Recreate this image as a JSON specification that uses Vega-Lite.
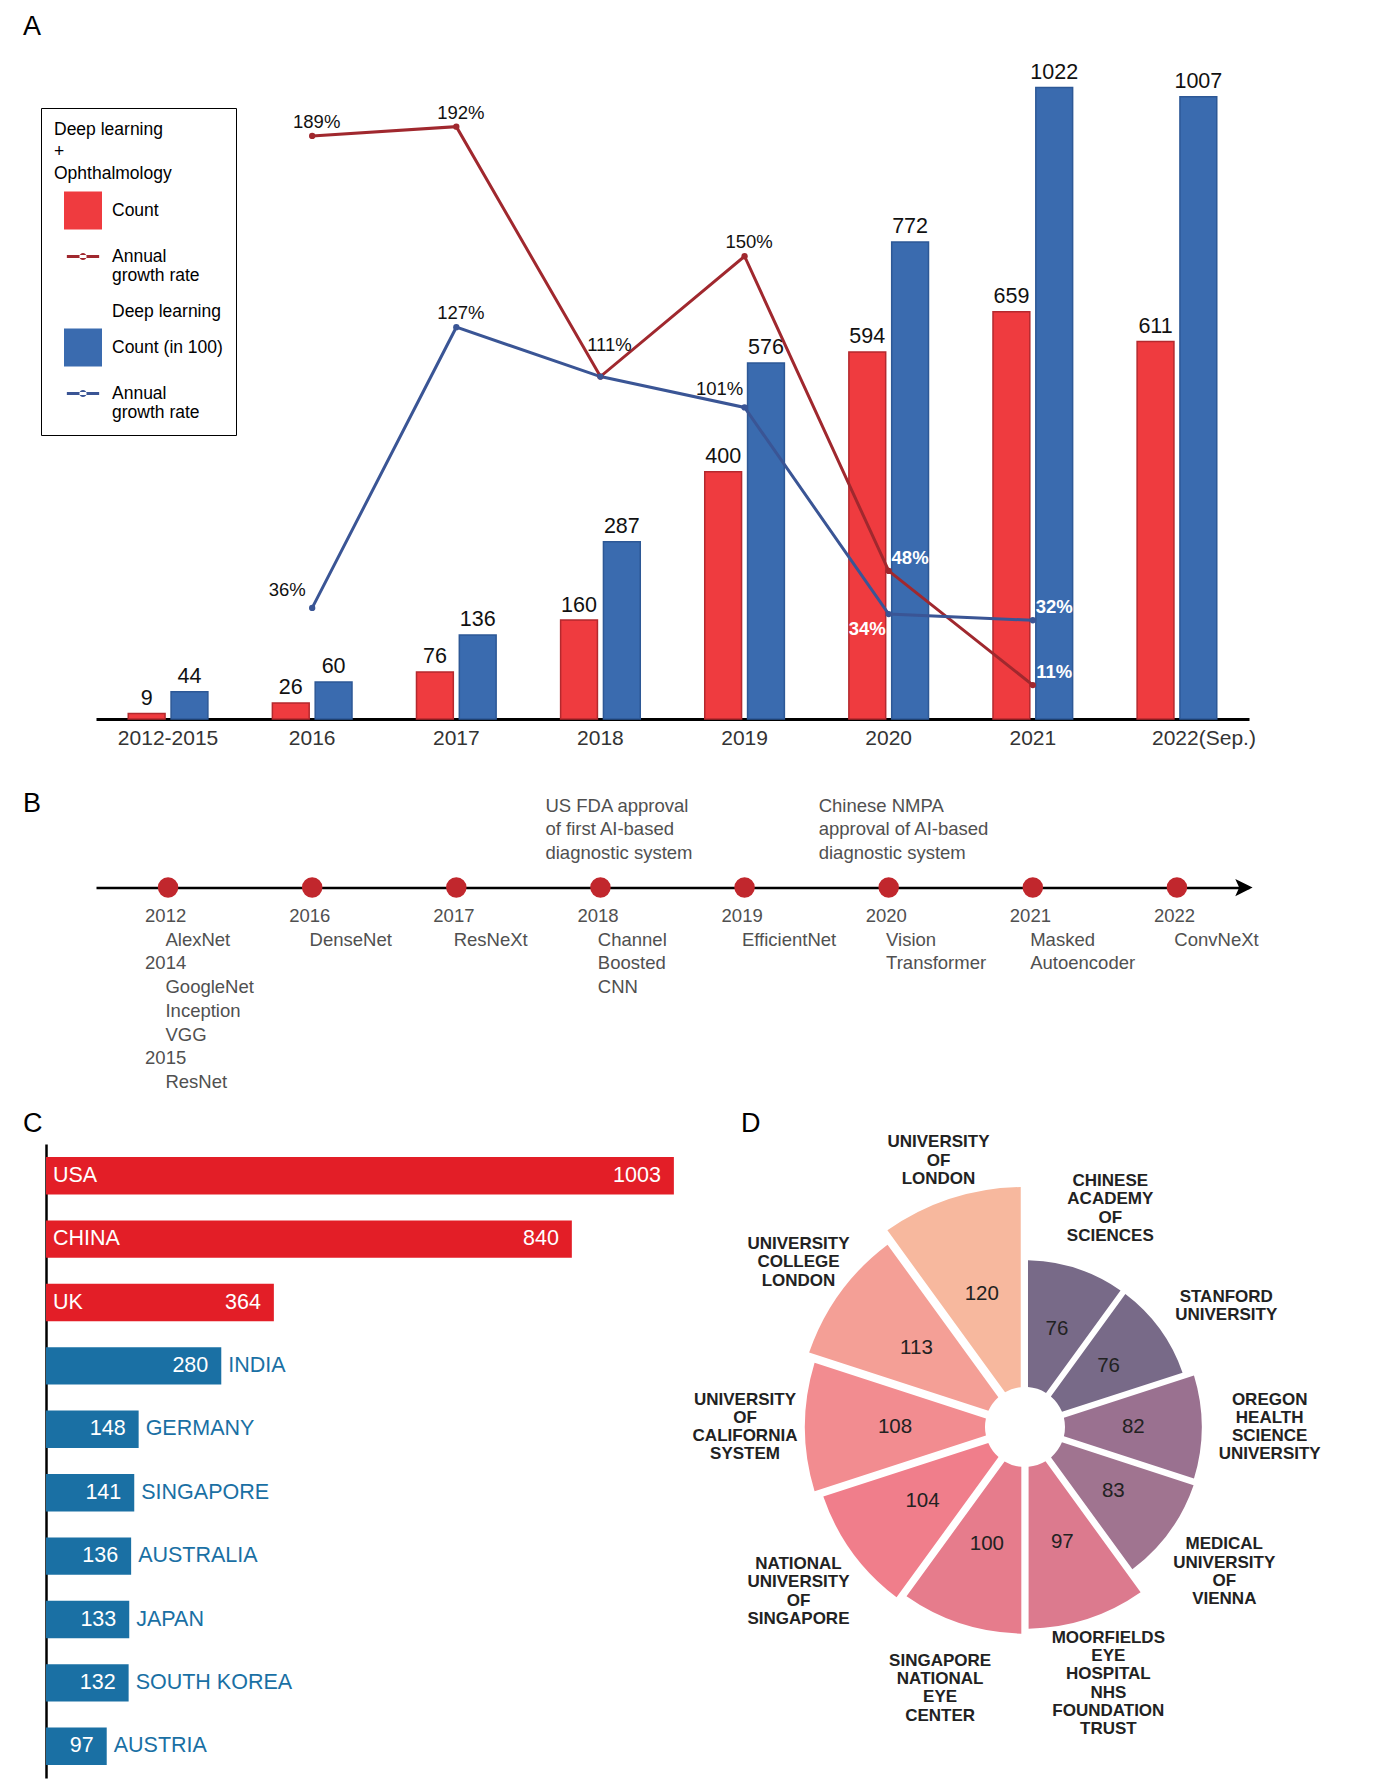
{
"$schema": "https://vega.github.io/schema/vega-lite/v6.json",
"padding": 0,
"spacing": 0,
"bounds": "flush",
"background": "white",
"resolve": {"scale": {"color": "independent", "shape": "independent"}, "legend": {"color": "independent", "shape": "independent"}},
"config": {
  "view": {"stroke": null, "fill": "transparent"},
  "font": "Liberation Sans",
  "title": {"font": "Liberation Sans", "fontSize": 27, "fontWeight": "normal", "color": "#000", "anchor": "start", "frame": "group"}
},
"datasets": {
  "countsA": [
    {"period": "2012-2015", "series": "Count", "value": 9},
    {"period": "2012-2015", "series": "Count (in 100)", "value": 44},
    {"period": "2016", "series": "Count", "value": 26},
    {"period": "2016", "series": "Count (in 100)", "value": 60},
    {"period": "2017", "series": "Count", "value": 76},
    {"period": "2017", "series": "Count (in 100)", "value": 136},
    {"period": "2018", "series": "Count", "value": 160},
    {"period": "2018", "series": "Count (in 100)", "value": 287},
    {"period": "2019", "series": "Count", "value": 400},
    {"period": "2019", "series": "Count (in 100)", "value": 576},
    {"period": "2020", "series": "Count", "value": 594},
    {"period": "2020", "series": "Count (in 100)", "value": 772},
    {"period": "2021", "series": "Count", "value": 659},
    {"period": "2021", "series": "Count (in 100)", "value": 1022},
    {"period": "2022(Sep.)", "series": "Count", "value": 611},
    {"period": "2022(Sep.)", "series": "Count (in 100)", "value": 1007}
  ],
  "growthA": [
    {"period": "2016", "series": "Annual growth rate", "rate": 1.89},
    {"period": "2017", "series": "Annual growth rate", "rate": 1.92},
    {"period": "2018", "series": "Annual growth rate", "rate": 1.11},
    {"period": "2019", "series": "Annual growth rate", "rate": 1.50},
    {"period": "2020", "series": "Annual growth rate", "rate": 0.48},
    {"period": "2021", "series": "Annual growth rate", "rate": 0.11},
    {"period": "2016", "series": "Annual growth rate (DL)", "rate": 0.36},
    {"period": "2017", "series": "Annual growth rate (DL)", "rate": 1.27},
    {"period": "2018", "series": "Annual growth rate (DL)", "rate": 1.11},
    {"period": "2019", "series": "Annual growth rate (DL)", "rate": 1.01},
    {"period": "2020", "series": "Annual growth rate (DL)", "rate": 0.34},
    {"period": "2021", "series": "Annual growth rate (DL)", "rate": 0.32}
  ],
  "tlText": [
    {"slot": "2012", "line": 1, "text": "2012", "kind": "year"},
    {"slot": "2012", "line": 2, "text": "AlexNet", "kind": "model"},
    {"slot": "2012", "line": 3, "text": "2014", "kind": "year"},
    {"slot": "2012", "line": 4, "text": "GoogleNet", "kind": "model"},
    {"slot": "2012", "line": 5, "text": "Inception", "kind": "model"},
    {"slot": "2012", "line": 6, "text": "VGG", "kind": "model"},
    {"slot": "2012", "line": 7, "text": "2015", "kind": "year"},
    {"slot": "2012", "line": 8, "text": "ResNet", "kind": "model"},
    {"slot": "2016", "line": 1, "text": "2016", "kind": "year"},
    {"slot": "2016", "line": 2, "text": "DenseNet", "kind": "model"},
    {"slot": "2017", "line": 1, "text": "2017", "kind": "year"},
    {"slot": "2017", "line": 2, "text": "ResNeXt", "kind": "model"},
    {"slot": "2018", "line": 1, "text": "2018", "kind": "year"},
    {"slot": "2018", "line": 2, "text": "Channel", "kind": "model"},
    {"slot": "2018", "line": 3, "text": "Boosted", "kind": "model"},
    {"slot": "2018", "line": 4, "text": "CNN", "kind": "model"},
    {"slot": "2019", "line": 1, "text": "2019", "kind": "year"},
    {"slot": "2019", "line": 2, "text": "EfficientNet", "kind": "model"},
    {"slot": "2020", "line": 1, "text": "2020", "kind": "year"},
    {"slot": "2020", "line": 2, "text": "Vision", "kind": "model"},
    {"slot": "2020", "line": 3, "text": "Transformer", "kind": "model"},
    {"slot": "2021", "line": 1, "text": "2021", "kind": "year"},
    {"slot": "2021", "line": 2, "text": "Masked", "kind": "model"},
    {"slot": "2021", "line": 3, "text": "Autoencoder", "kind": "model"},
    {"slot": "2022", "line": 1, "text": "2022", "kind": "year"},
    {"slot": "2022", "line": 2, "text": "ConvNeXt", "kind": "model"}
  ],
  "tlNotes": [
    {"slot": "2018", "note": "US FDA approval\nof first AI-based\ndiagnostic system"},
    {"slot": "2020", "note": "Chinese NMPA\napproval of AI-based\ndiagnostic system"}
  ],
  "countries": [
    {"country": "USA", "papers": 1003},
    {"country": "CHINA", "papers": 840},
    {"country": "UK", "papers": 364},
    {"country": "INDIA", "papers": 280},
    {"country": "GERMANY", "papers": 148},
    {"country": "SINGAPORE", "papers": 141},
    {"country": "AUSTRALIA", "papers": 136},
    {"country": "JAPAN", "papers": 133},
    {"country": "SOUTH KOREA", "papers": 132},
    {"country": "AUSTRIA", "papers": 97}
  ],
  "inst": [
    {"inst": "Chinese Academy of Sciences", "papers": 76, "rank": 1, "label": "CHINESE\nACADEMY\nOF\nSCIENCES"},
    {"inst": "Stanford University", "papers": 76, "rank": 2, "label": "STANFORD\nUNIVERSITY"},
    {"inst": "Oregon Health Science University", "papers": 82, "rank": 3, "label": "OREGON\nHEALTH\nSCIENCE\nUNIVERSITY"},
    {"inst": "Medical University of Vienna", "papers": 83, "rank": 4, "label": "MEDICAL\nUNIVERSITY\nOF\nVIENNA"},
    {"inst": "Moorfields Eye Hospital NHS Foundation Trust", "papers": 97, "rank": 5, "label": "MOORFIELDS\nEYE\nHOSPITAL\nNHS\nFOUNDATION\nTRUST"},
    {"inst": "Singapore National Eye Center", "papers": 100, "rank": 6, "label": "SINGAPORE\nNATIONAL\nEYE\nCENTER"},
    {"inst": "National University of Singapore", "papers": 104, "rank": 7, "label": "NATIONAL\nUNIVERSITY\nOF\nSINGAPORE"},
    {"inst": "University of California System", "papers": 108, "rank": 8, "label": "UNIVERSITY\nOF\nCALIFORNIA\nSYSTEM"},
    {"inst": "University College London", "papers": 113, "rank": 9, "label": "UNIVERSITY\nCOLLEGE\nLONDON"},
    {"inst": "University of London", "papers": 120, "rank": 10, "label": "UNIVERSITY\nOF\nLONDON"}
  ]
},
"vconcat": [
  {
    "width": 1378,
    "height": 719,
    "title": {"text": "A", "dx": 23, "offset": -62, "baseline": "alphabetic"},
    "layer": [
      {
        "data": {"name": "countsA"},
        "mark": {"type": "bar", "strokeWidth": 1.5},
        "encoding": {
          "x": {"field": "period", "type": "nominal",
                "scale": {"type": "band", "range": [96, 1249], "paddingInner": 0, "paddingOuter": 0},
                "axis": {"title": null, "orient": "bottom", "domainColor": "#000", "domainWidth": 3, "ticks": false, "labelAngle": 0,
                         "labelFontSize": 21, "labelColor": "#333", "labelPadding": 8, "labelFont": "Liberation Sans",
                         "labelOffset": {"condition": {"test": "datum.value == '2022(Sep.)'", "value": 27}, "value": 0}}},
          "xOffset": {"field": "series", "type": "nominal", "scale": {"domain": ["Count", "Count (in 100)"], "paddingInner": 0.14, "paddingOuter": 0.753}},
          "y": {"field": "value", "type": "quantitative", "scale": {"domain": [0, 1163.4], "nice": false}, "axis": null},
          "color": {"field": "series", "type": "nominal",
            "scale": {"domain": ["Count", "Annual growth rate", "Deep learning", "Count (in 100)", "Annual growth rate (DL)"],
                      "range": ["#ef3b3f", "#a0282e", "#ffffff", "#3a6baf", "#3a5595"]},
            "legend": {
              "orient": "none", "legendX": 41, "legendY": 108, "direction": "vertical",
              "title": ["Deep learning", "+", "Ophthalmology"],
              "titleFont": "Liberation Sans", "titleFontSize": 17.5, "titleFontWeight": "normal", "titleColor": "#000",
              "titleLineHeight": 22, "titlePadding": 9, "titleLimit": 400,
              "labelFont": "Liberation Sans", "labelFontSize": 17.5, "labelColor": "#000", "labelLimit": 400,
              "labelExpr": "indexof(datum.label, 'Annual') == 0 ? ['Annual', 'growth rate'] : datum.label",
              "symbolSize": 1444, "symbolOffset": 10, "labelOffset": 10, "rowPadding": 8,
              "padding": 13, "strokeColor": "#000", "fillColor": "#fff", "symbolOpacity": 1, "symbolStrokeWidth": 0
            }},
          "stroke": {"condition": {"test": "datum.series == 'Count'", "value": "#b4292e"}, "value": "#2d5896"}
        }
      },
      {
        "data": {"name": "countsA"},
        "mark": {"type": "point", "filled": true, "opacity": 0},
        "encoding": {
          "x": {"field": "period", "type": "nominal"},
          "xOffset": {"field": "series", "type": "nominal"},
          "y": {"field": "value", "type": "quantitative", "scale": {"domain": [0, 1163.4], "nice": false}, "axis": null},
          "color": {"field": "series", "type": "nominal"},
          "shape": {"field": "series", "type": "nominal",
            "scale": {"domain": ["Count", "Annual growth rate", "Deep learning", "Count (in 100)", "Annual growth rate (DL)"],
                      "range": ["square", "M-0.85,-0.08H0.85V0.08H-0.85ZM-0.19,0A0.19,0.19,0,1,0,0.19,0A0.19,0.19,0,1,0,-0.19,0Z", "M0,0", "square", "M-0.85,-0.08H0.85V0.08H-0.85ZM-0.19,0A0.19,0.19,0,1,0,0.19,0A0.19,0.19,0,1,0,-0.19,0Z"]},
            "legend": {
              "orient": "none", "legendX": 41, "legendY": 108, "direction": "vertical",
              "title": ["Deep learning", "+", "Ophthalmology"],
              "titleFont": "Liberation Sans", "titleFontSize": 17.5, "titleFontWeight": "normal", "titleColor": "#000",
              "titleLineHeight": 22, "titlePadding": 9, "titleLimit": 400,
              "labelFont": "Liberation Sans", "labelFontSize": 17.5, "labelColor": "#000", "labelLimit": 400,
              "labelExpr": "indexof(datum.label, 'Annual') == 0 ? ['Annual', 'growth rate'] : datum.label",
              "symbolSize": 1444, "symbolOffset": 10, "labelOffset": 10, "rowPadding": 8,
              "padding": 13, "strokeColor": "#000", "fillColor": "#fff", "symbolOpacity": 1, "symbolStrokeWidth": 0
            }}
        }
      },
      {
        "data": {"name": "countsA"},
        "mark": {"type": "text", "baseline": "bottom", "dy": -3.6, "fontSize": 21.5, "color": "#111"},
        "encoding": {
          "x": {"field": "period", "type": "nominal"},
          "xOffset": {"field": "series", "type": "nominal"},
          "y": {"field": "value", "type": "quantitative", "scale": {"domain": [0, 1163.4], "nice": false}, "axis": null},
          "text": {"field": "value", "type": "quantitative"}
        }
      },
      {
        "data": {"name": "growthA"},
        "mark": {"type": "line", "strokeWidth": 3, "point": {"filled": true, "size": 40}},
        "encoding": {
          "x": {"field": "period", "type": "nominal"},
          "y": {"field": "rate", "type": "quantitative", "scale": {"domain": [0, 2.3306], "nice": false}, "axis": null},
          "color": {"field": "series", "type": "nominal"}
        }
      },
      {
        "data": {"name": "growthA"},
        "transform": [{"filter": "(datum.series == 'Annual growth rate' && (datum.period == '2016' || datum.period == '2017' || datum.period == '2019')) || (datum.series == 'Annual growth rate (DL)' && datum.period == '2017')"}],
        "mark": {"type": "text", "dx": 4.5, "dy": -14, "fontSize": 18.5, "color": "#111"},
        "encoding": {
          "x": {"field": "period", "type": "nominal"},
          "y": {"field": "rate", "type": "quantitative", "scale": {"domain": [0, 2.3306], "nice": false}, "axis": null},
          "text": {"field": "rate", "type": "quantitative", "format": ".0%"}
        }
      },
      {
        "data": {"name": "growthA"},
        "transform": [{"filter": "datum.series == 'Annual growth rate' && datum.period == '2018'"}],
        "mark": {"type": "text", "dx": 9, "dy": -32, "fontSize": 18.5, "color": "#111"},
        "encoding": {
          "x": {"field": "period", "type": "nominal"},
          "y": {"field": "rate", "type": "quantitative", "scale": {"domain": [0, 2.3306], "nice": false}, "axis": null},
          "text": {"field": "rate", "type": "quantitative", "format": ".0%"}
        }
      },
      {
        "data": {"name": "growthA"},
        "transform": [{"filter": "(datum.series == 'Annual growth rate' && (datum.period == '2020' || datum.period == '2021')) || (datum.series == 'Annual growth rate (DL)' && datum.period == '2021')"}],
        "mark": {"type": "text", "dx": 21.4, "dy": -13, "fontSize": 18.5, "fontWeight": "bold", "color": "#fff"},
        "encoding": {
          "x": {"field": "period", "type": "nominal"},
          "y": {"field": "rate", "type": "quantitative", "scale": {"domain": [0, 2.3306], "nice": false}, "axis": null},
          "text": {"field": "rate", "type": "quantitative", "format": ".0%"}
        }
      },
      {
        "data": {"name": "growthA"},
        "transform": [{"filter": "datum.series == 'Annual growth rate (DL)' && (datum.period == '2016' || datum.period == '2019')"}],
        "mark": {"type": "text", "dx": -25, "dy": -18, "fontSize": 18.5, "color": "#111"},
        "encoding": {
          "x": {"field": "period", "type": "nominal"},
          "y": {"field": "rate", "type": "quantitative", "scale": {"domain": [0, 2.3306], "nice": false}, "axis": null},
          "text": {"field": "rate", "type": "quantitative", "format": ".0%"}
        }
      },
      {
        "data": {"name": "growthA"},
        "transform": [{"filter": "datum.series == 'Annual growth rate (DL)' && datum.period == '2020'"}],
        "mark": {"type": "text", "dx": -21.4, "dy": 15, "fontSize": 18.5, "fontWeight": "bold", "color": "#fff"},
        "encoding": {
          "x": {"field": "period", "type": "nominal"},
          "y": {"field": "rate", "type": "quantitative", "scale": {"domain": [0, 2.3306], "nice": false}, "axis": null},
          "text": {"field": "rate", "type": "quantitative", "format": ".0%"}
        }
      }
    ],
    "resolve": {"scale": {"y": "independent"}}
  },
  {
    "width": 1378,
    "height": 381,
    "title": {"text": "B", "dx": 23, "offset": -120, "baseline": "alphabetic"},
    "layer": [
      {
        "data": {"name": "tlText"},
        "transform": [{"filter": "datum.line == 1"}],
        "mark": {"type": "point", "filled": true, "size": 420, "color": "#c1272d", "opacity": 1},
        "encoding": {
          "x": {"field": "slot", "type": "ordinal",
                "scale": {"type": "point", "range": [96, 1249], "padding": 0.5},
                "axis": {"title": null, "orient": "bottom", "offset": -212.4, "domainColor": "#000", "domainWidth": 2.5, "ticks": false, "labels": false}},
          "y": {"datum": 0, "type": "quantitative", "scale": {"domain": [-7.114, 8.962], "reverse": true, "nice": false, "zero": false}, "axis": null}
        }
      },
      {
        "data": {"name": "tlText"},
        "transform": [{"filter": "datum.line == 1 && datum.slot == '2022'"}],
        "mark": {"type": "point", "shape": "M-1,-1L1,0L-1,1L-0.55,0Z", "filled": true, "size": 300, "color": "#000", "opacity": 1, "xOffset": 67},
        "encoding": {
          "x": {"field": "slot", "type": "ordinal"},
          "y": {"datum": 0, "type": "quantitative"}
        }
      },
      {
        "data": {"name": "tlText"},
        "transform": [{"filter": "datum.kind == 'year'"}],
        "mark": {"type": "text", "align": "left", "baseline": "middle", "dx": -23, "dy": 4.7, "fontSize": 18.5, "color": "#505050"},
        "encoding": {
          "x": {"field": "slot", "type": "ordinal"},
          "y": {"field": "line", "type": "quantitative"},
          "text": {"field": "text"}
        }
      },
      {
        "data": {"name": "tlText"},
        "transform": [{"filter": "datum.kind == 'model'"}],
        "mark": {"type": "text", "align": "left", "baseline": "middle", "dx": -2.6, "dy": 4.7, "fontSize": 18.5, "color": "#505050"},
        "encoding": {
          "x": {"field": "slot", "type": "ordinal"},
          "y": {"field": "line", "type": "quantitative"},
          "text": {"field": "text"}
        }
      },
      {
        "data": {"name": "tlNotes"},
        "transform": [{"filter": "datum.slot == '2018'"}],
        "mark": {"type": "text", "align": "left", "baseline": "middle", "dx": -55, "dy": -82, "fontSize": 18.5, "color": "#505050", "lineBreak": "\n", "lineHeight": 23.5},
        "encoding": {
          "x": {"field": "slot", "type": "ordinal"},
          "y": {"datum": 0, "type": "quantitative"},
          "text": {"field": "note"}
        }
      },
      {
        "data": {"name": "tlNotes"},
        "transform": [{"filter": "datum.slot == '2020'"}],
        "mark": {"type": "text", "align": "left", "baseline": "middle", "dx": -70, "dy": -82, "fontSize": 18.5, "color": "#505050", "lineBreak": "\n", "lineHeight": 23.5},
        "encoding": {
          "x": {"field": "slot", "type": "ordinal"},
          "y": {"datum": 0, "type": "quantitative"},
          "text": {"field": "note"}
        }
      }
    ]
  },
  {
    "spacing": 0,
    "bounds": "flush",
    "resolve": {"scale": {"color": "independent"}, "legend": {"color": "independent"}},
    "hconcat": [
      {
        "width": 680,
        "height": 689,
        "title": {"text": "C", "dx": 23, "offset": -59, "baseline": "alphabetic"},
        "data": {"name": "countries"},
        "encoding": {
          "y": {"field": "country", "type": "nominal", "sort": null,
                "scale": {"range": [44, 678], "paddingInner": 0.41, "paddingOuter": 0.205},
                "axis": {"title": null, "orient": "left", "offset": -46, "domainColor": "#000", "domainWidth": 2.5, "ticks": false, "labels": false}}
        },
        "layer": [
          {
            "mark": {"type": "bar"},
            "encoding": {
              "x": {"field": "papers", "type": "quantitative", "scale": {"domain": [0, 1000], "range": [46, 672], "nice": false}, "axis": null},
              "color": {"condition": {"test": "datum.papers > 300", "value": "#e31e27"}, "value": "#1a70a4"}
            }
          },
          {
            "transform": [{"filter": "datum.papers > 300"}],
            "mark": {"type": "text", "align": "left", "baseline": "middle", "dx": 7, "fontSize": 21.5, "color": "#fff"},
            "encoding": {
              "x": {"datum": 0, "type": "quantitative"},
              "text": {"field": "country"}
            }
          },
          {
            "mark": {"type": "text", "align": "right", "baseline": "middle", "dx": -13, "fontSize": 21.5, "color": "#fff"},
            "encoding": {
              "x": {"field": "papers", "type": "quantitative"},
              "text": {"field": "papers", "type": "quantitative"}
            }
          },
          {
            "transform": [{"filter": "datum.papers <= 300"}],
            "mark": {"type": "text", "align": "left", "baseline": "middle", "dx": 7, "fontSize": 21.5, "color": "#1a70a4"},
            "encoding": {
              "x": {"field": "papers", "type": "quantitative"},
              "text": {"field": "country"}
            }
          }
        ]
      },
      {
        "width": 690,
        "height": 654,
        "title": {"text": "D", "dx": 61, "offset": -59, "baseline": "alphabetic"},
        "data": {"name": "inst"},
        "transform": [
          {"joinaggregate": [{"op": "count", "as": "n"}], "groupby": ["inst"]},
          {"stack": "n", "groupby": [], "sort": [{"field": "rank", "order": "ascending"}], "as": ["t0", "t1"]}
        ],
        "layer": [
          {
            "mark": {"type": "arc", "padAngle": 0.035},
            "encoding": {
              "theta": {"field": "t0", "type": "quantitative", "stack": null, "scale": {"domain": [0, 10], "nice": false, "zero": false}},
              "theta2": {"field": "t1"},
              "radius": {"field": "papers", "type": "quantitative", "scale": {"type": "linear", "domain": [0, 120], "range": [40, 240], "zero": false, "nice": false}},
              "radius2": {"datum": 0},
              "color": {"field": "inst", "type": "nominal", "legend": null,
                "scale": {"domain": ["Chinese Academy of Sciences", "Stanford University", "Oregon Health Science University", "Medical University of Vienna", "Moorfields Eye Hospital NHS Foundation Trust", "Singapore National Eye Center", "National University of Singapore", "University of California System", "University College London", "University of London"],
                          "range": ["#786a88", "#786a88", "#9a7190", "#a07490", "#dc7a8e", "#e67c8c", "#f07e8b", "#f28c90", "#f49f96", "#f7b89e"]}}
            }
          },
          {
            "mark": {"type": "text", "fontSize": 20.5, "color": "#222", "baseline": "middle"},
            "encoding": {
              "theta": {"field": "t0", "type": "quantitative", "stack": null, "scale": {"domain": [-0.5, 9.5], "nice": false, "zero": false}},
              "radius": {"field": "papers", "type": "quantitative", "scale": {"type": "linear", "domain": [0, 120], "range": [40, 140], "zero": false, "nice": false}},
              "text": {"field": "papers", "type": "quantitative"}
            }
          },
          {
            "transform": [{"filter": "datum.inst == 'Stanford University'"}],
            "mark": {"type": "text", "fontSize": 17, "fontWeight": "bold", "color": "#222", "baseline": "middle", "lineBreak": "\n", "lineHeight": 18.3, "dx": 11.4, "dy": 7.9},
            "encoding": {
              "theta": {"field": "t0", "type": "quantitative", "stack": null, "scale": {"domain": [-0.5, 9.5], "nice": false, "zero": false}},
              "radius": {"field": "papers", "type": "quantitative", "scale": {"type": "linear", "domain": [0, 103.2], "range": [108, 280], "clamp": true, "zero": false, "nice": false}},
              "text": {"field": "label"}
            }
          },
          {
            "transform": [{"filter": "datum.inst == 'Chinese Academy of Sciences'"}],
            "mark": {"type": "text", "fontSize": 17, "fontWeight": "bold", "color": "#222", "baseline": "middle", "lineBreak": "\n", "lineHeight": 18.3, "dx": 12.8, "dy": -22.85},
            "encoding": {
              "theta": {"field": "t0", "type": "quantitative", "stack": null, "scale": {"domain": [-0.5, 9.5], "nice": false, "zero": false}},
              "radius": {"field": "papers", "type": "quantitative", "scale": {"type": "linear", "domain": [0, 103.2], "range": [108, 280], "clamp": true, "zero": false, "nice": false}},
              "text": {"field": "label"}
            }
          },
          {
            "transform": [{"filter": "length(split(datum.label, '\\n')) == 3"}],
            "mark": {"type": "text", "fontSize": 17, "fontWeight": "bold", "color": "#222", "baseline": "middle", "lineBreak": "\n", "lineHeight": 18.3, "dy": -18.3},
            "encoding": {
              "theta": {"field": "t0", "type": "quantitative", "stack": null, "scale": {"domain": [-0.5, 9.5], "nice": false, "zero": false}},
              "radius": {"field": "papers", "type": "quantitative", "scale": {"type": "linear", "domain": [0, 103.2], "range": [108, 280], "clamp": true, "zero": false, "nice": false}},
              "text": {"field": "label"}
            }
          },
          {
            "transform": [{"filter": "length(split(datum.label, '\\n')) == 4 && datum.inst != 'Chinese Academy of Sciences'"}],
            "mark": {"type": "text", "fontSize": 17, "fontWeight": "bold", "color": "#222", "baseline": "middle", "lineBreak": "\n", "lineHeight": 18.3, "dy": -27.45},
            "encoding": {
              "theta": {"field": "t0", "type": "quantitative", "stack": null, "scale": {"domain": [-0.5, 9.5], "nice": false, "zero": false}},
              "radius": {"field": "papers", "type": "quantitative", "scale": {"type": "linear", "domain": [0, 103.2], "range": [108, 280], "clamp": true, "zero": false, "nice": false}},
              "text": {"field": "label"}
            }
          },
          {
            "transform": [{"filter": "length(split(datum.label, '\\n')) == 6"}],
            "mark": {"type": "text", "fontSize": 17, "fontWeight": "bold", "color": "#222", "baseline": "middle", "lineBreak": "\n", "lineHeight": 18.3, "dy": -45.75},
            "encoding": {
              "theta": {"field": "t0", "type": "quantitative", "stack": null, "scale": {"domain": [-0.5, 9.5], "nice": false, "zero": false}},
              "radius": {"field": "papers", "type": "quantitative", "scale": {"type": "linear", "domain": [0, 103.2], "range": [108, 280], "clamp": true, "zero": false, "nice": false}},
              "text": {"field": "label"}
            }
          }
        ],
        "resolve": {"scale": {"radius": "independent", "theta": "independent"}}
      }
    ]
  }
]
}
